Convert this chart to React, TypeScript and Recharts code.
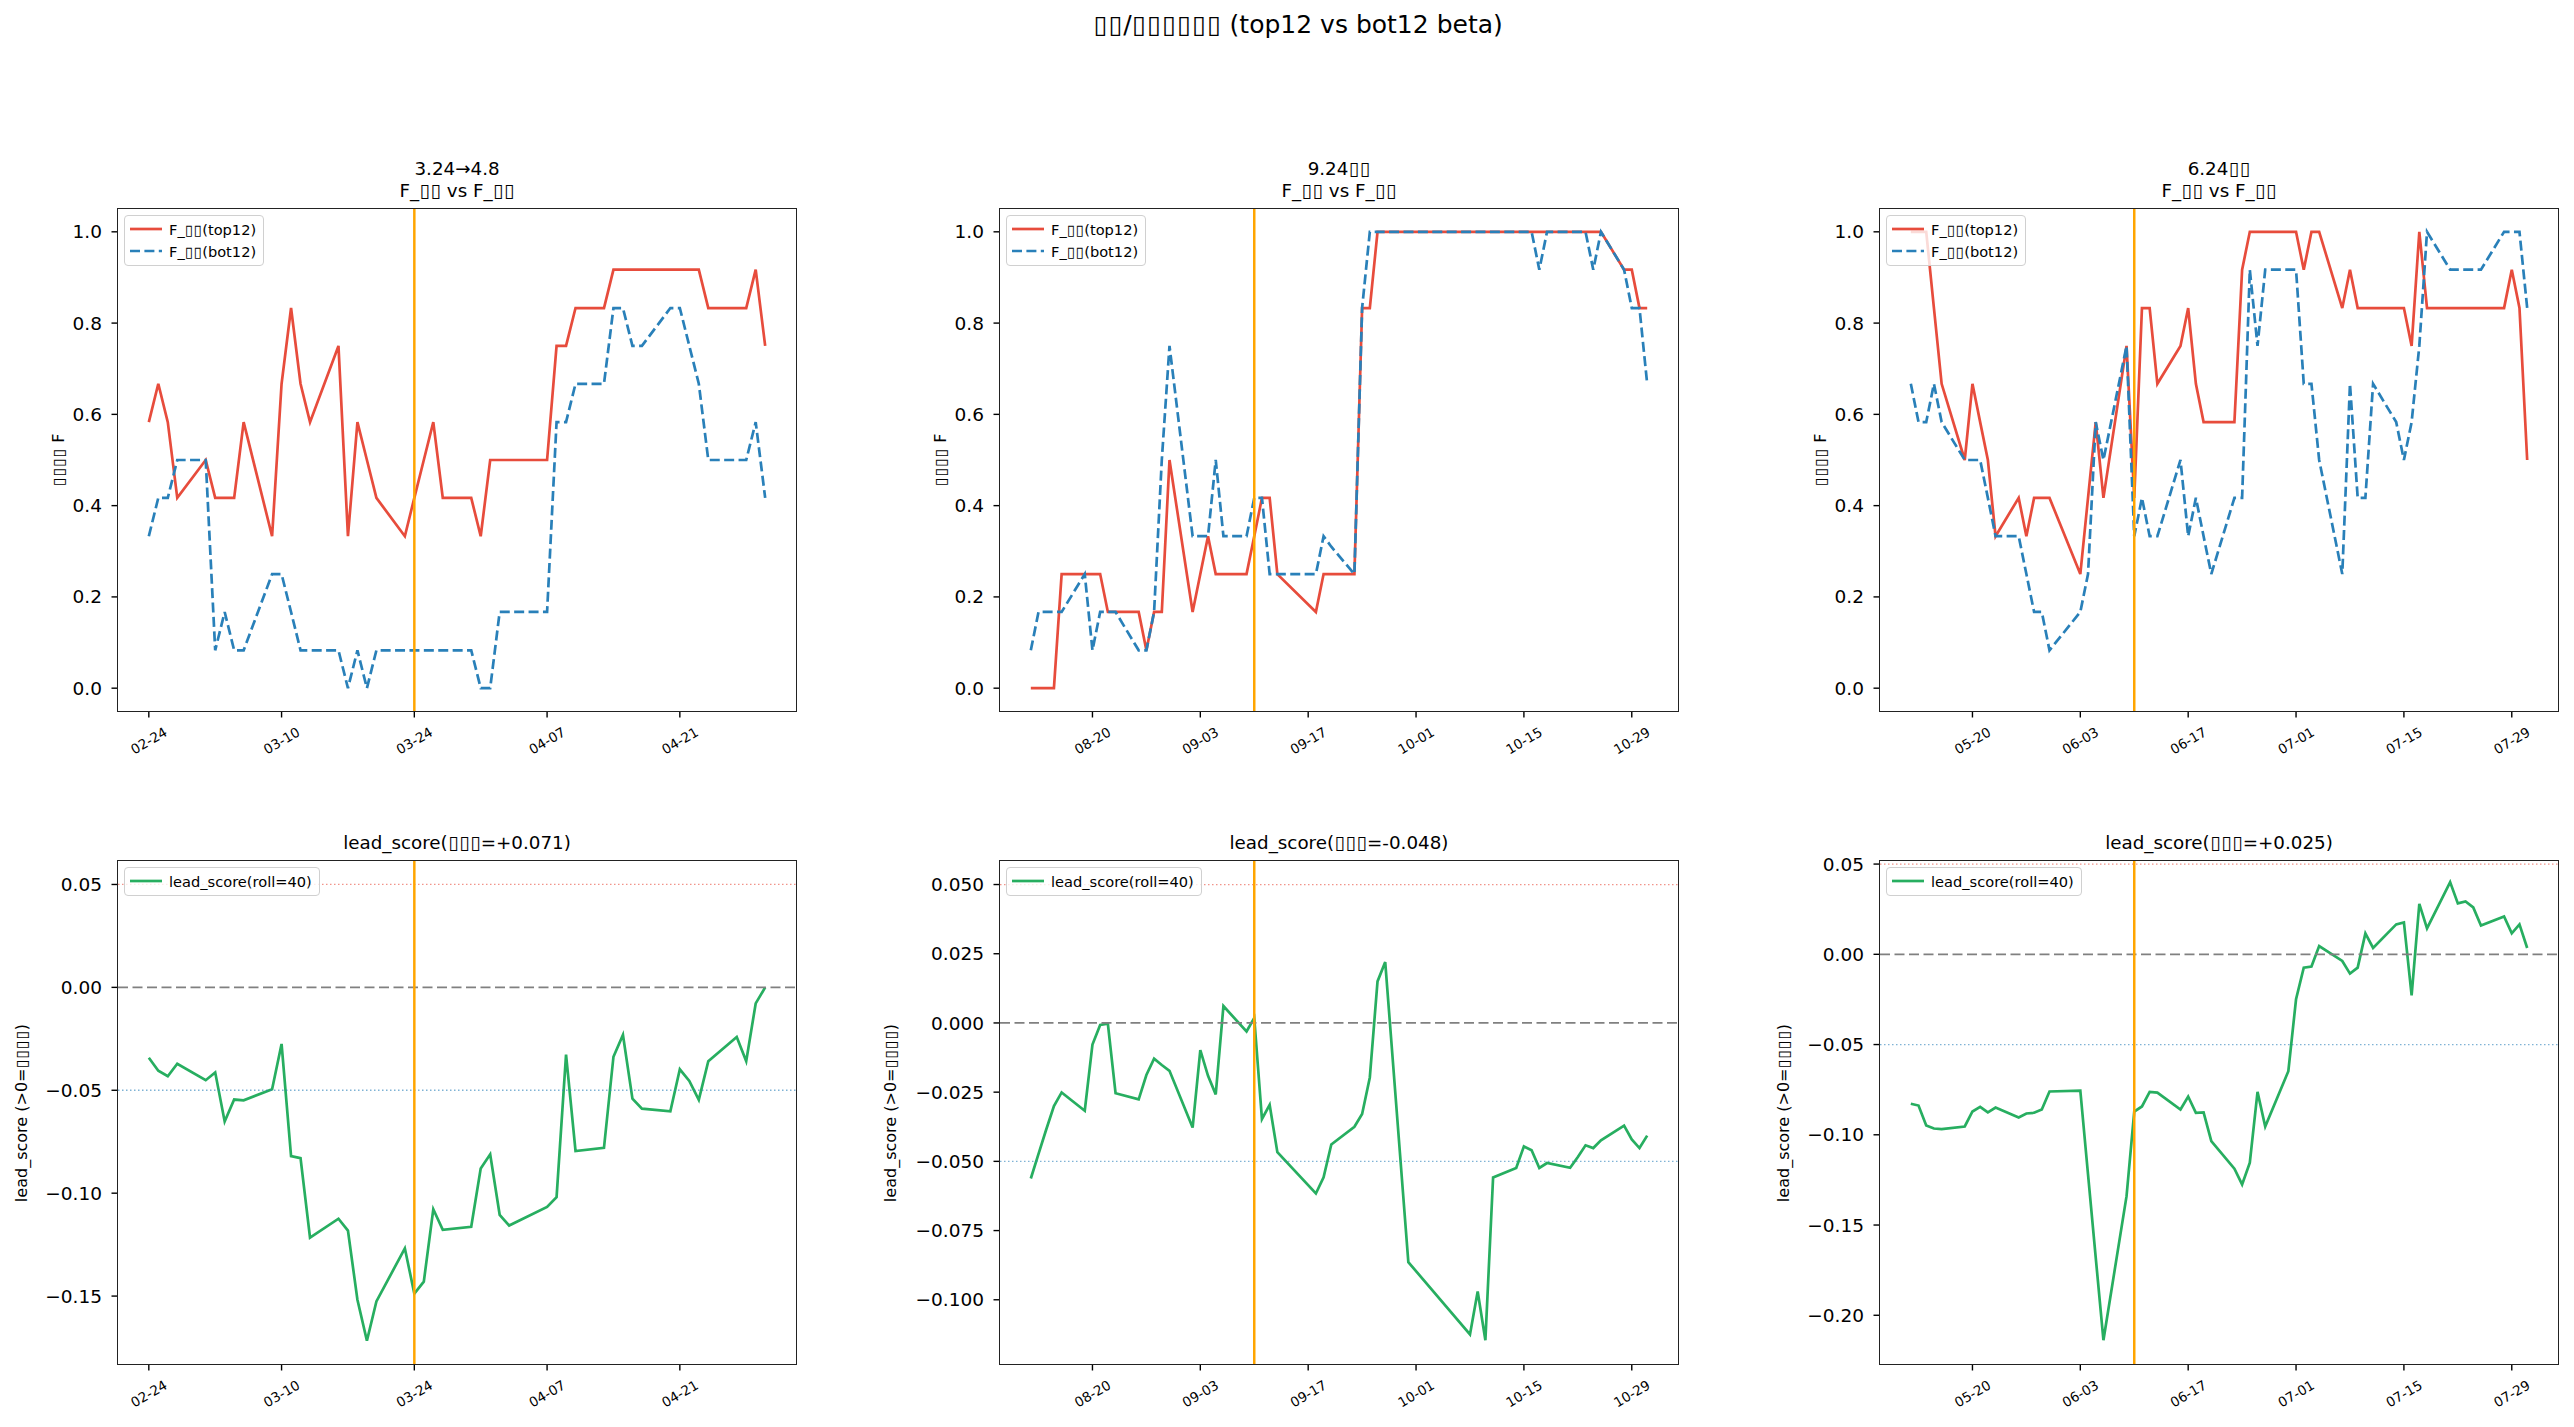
import React from "react";
import { LineChart, Line, XAxis, YAxis, ReferenceLine } from "recharts";

const FONT = "'DejaVu Sans', sans-serif";
const BOX = "\u25AF";
const DAY = 86400000;

const RED = "#e74c3c";
const BLUE = "#2980b9";
const GREEN = "#27ae60";
const ORANGE = "#FFA500";

// ---- panel 1 : 3.24→4.8 (2026) ----
const p1Year = 2026;
const p1Dates = ["02-24","02-25","02-26","02-27","03-02","03-03","03-04","03-05","03-06","03-09","03-10","03-11","03-12","03-13","03-16","03-17","03-18","03-19","03-20","03-23","03-24","03-25","03-26","03-27","03-30","03-31","04-01","04-02","04-03","04-07","04-08","04-09","04-10","04-13","04-14","04-15","04-16","04-17","04-20","04-21","04-22","04-23","04-24","04-27","04-28","04-29","04-30"];
const p1Top = [0.583,0.667,0.583,0.417,0.5,0.417,0.417,0.417,0.583,0.333,0.667,0.833,0.667,0.583,0.75,0.333,0.583,0.5,0.417,0.333,0.417,0.5,0.583,0.417,0.417,0.333,0.5,0.5,0.5,0.5,0.75,0.75,0.833,0.833,0.917,0.917,0.917,0.917,0.917,0.917,0.917,0.917,0.833,0.833,0.833,0.917,0.75];
const p1Bot = [0.333,0.417,0.417,0.5,0.5,0.083,0.167,0.083,0.083,0.25,0.25,0.167,0.083,0.083,0.083,0,0.083,0,0.083,0.083,0.083,0.083,0.083,0.083,0.083,0,0,0.167,0.167,0.167,0.583,0.583,0.667,0.667,0.833,0.833,0.75,0.75,0.833,0.833,0.75,0.667,0.5,0.5,0.5,0.583,0.417];
const p1Lead = [-0.0342,-0.0405,-0.0432,-0.0371,-0.0451,-0.0413,-0.0652,-0.0545,-0.0549,-0.0495,-0.0275,-0.082,-0.083,-0.1216,-0.1124,-0.1182,-0.1518,-0.1717,-0.1526,-0.1268,-0.1488,-0.143,-0.1078,-0.1178,-0.1163,-0.088,-0.0811,-0.1105,-0.1157,-0.1067,-0.1019,-0.0327,-0.0795,-0.078,-0.0337,-0.0231,-0.0541,-0.0589,-0.0602,-0.0398,-0.0455,-0.0547,-0.0359,-0.0241,-0.0359,-0.0078,0.0];
const p1Ticks = ["02-24","03-10","03-24","04-07","04-21"];
const p1Mark = "03-24";

// ---- panel 2 : 9.24 (2024) ----
const p2Year = 2024;
const p2Dates = ["08-12","08-13","08-14","08-15","08-16","08-19","08-20","08-21","08-22","08-23","08-26","08-27","08-28","08-29","08-30","09-02","09-03","09-04","09-05","09-06","09-09","09-10","09-11","09-12","09-13","09-18","09-19","09-20","09-23","09-24","09-25","09-26","09-27","09-30","10-08","10-09","10-10","10-11","10-14","10-15","10-16","10-17","10-18","10-21","10-22","10-23","10-24","10-25","10-28","10-29","10-30","10-31"];
const p2Top = [0,0,0,0,0.25,0.25,0.25,0.25,0.167,0.167,0.167,0.083,0.167,0.167,0.5,0.167,0.25,0.333,0.25,0.25,0.25,0.333,0.417,0.417,0.25,0.167,0.25,0.25,0.25,0.833,0.833,1,1,1,1,1,1,1,1,1,1,1,1,1,1,1,1,1,0.917,0.917,0.833,0.833];
const p2Bot = [0.083,0.167,0.167,0.167,0.167,0.25,0.083,0.167,0.167,0.167,0.083,0.083,0.167,0.5,0.75,0.333,0.333,0.333,0.5,0.333,0.333,0.417,0.417,0.25,0.25,0.25,0.333,0.31,0.25,0.833,1,1,1,1,1,1,1,1,1,1,1,0.917,1,1,1,1,0.917,1,0.917,0.833,0.833,0.667];
const p2Lead = [-0.0562,-0.0473,-0.0385,-0.03,-0.0251,-0.0317,-0.0078,-0.0007,-0.0003,-0.0254,-0.0276,-0.0188,-0.0129,-0.0152,-0.0173,-0.0378,-0.0098,-0.0191,-0.0258,0.0061,-0.0031,0.0018,-0.0347,-0.0296,-0.0467,-0.0616,-0.0558,-0.0439,-0.0375,-0.0329,-0.0197,0.015,0.022,-0.0864,-0.1125,-0.097,-0.1146,-0.0558,-0.0524,-0.0446,-0.046,-0.0524,-0.0506,-0.0523,-0.0484,-0.0442,-0.0452,-0.0424,-0.0371,-0.0421,-0.0452,-0.0407];
const p2Ticks = ["08-20","09-03","09-17","10-01","10-15","10-29"];
const p2Mark = "09-10";

// ---- panel 3 : 6.24 (2025) ----
const p3Year = 2025;
const p3Dates = ["05-12","05-13","05-14","05-15","05-16","05-19","05-20","05-21","05-22","05-23","05-26","05-27","05-28","05-29","05-30","06-03","06-04","06-05","06-06","06-09","06-10","06-11","06-12","06-13","06-16","06-17","06-18","06-19","06-20","06-23","06-24","06-25","06-26","06-27","06-30","07-01","07-02","07-03","07-04","07-07","07-08","07-09","07-10","07-11","07-14","07-15","07-16","07-17","07-18","07-21","07-22","07-23","07-24","07-25","07-28","07-29","07-30","07-31"];
const p3Top = [1,1,1,0.833,0.667,0.5,0.667,0.583,0.5,0.333,0.417,0.333,0.417,0.417,0.417,0.25,0.417,0.583,0.417,0.75,0.417,0.833,0.833,0.667,0.75,0.833,0.667,0.583,0.583,0.583,0.917,1,1,1,1,1,0.917,1,1,0.833,0.917,0.833,0.833,0.833,0.833,0.833,0.75,1,0.833,0.833,0.833,0.833,0.833,0.833,0.833,0.917,0.833,0.5];
const p3Bot = [0.667,0.583,0.583,0.667,0.583,0.5,0.5,0.5,0.417,0.333,0.333,0.25,0.167,0.167,0.083,0.167,0.25,0.583,0.5,0.75,0.333,0.417,0.333,0.333,0.5,0.333,0.417,0.333,0.25,0.417,0.417,0.917,0.75,0.917,0.917,0.917,0.667,0.667,0.5,0.25,0.667,0.417,0.417,0.667,0.583,0.5,0.583,0.75,1,0.917,0.917,0.917,0.917,0.917,1,1,1,0.833];
const p3Lead = [-0.0828,-0.0838,-0.0948,-0.0965,-0.0969,-0.0954,-0.0871,-0.0845,-0.0876,-0.0849,-0.0904,-0.0882,-0.0878,-0.086,-0.076,-0.0755,-0.122,-0.168,-0.2138,-0.134,-0.0871,-0.0843,-0.0762,-0.0766,-0.086,-0.0788,-0.0878,-0.0876,-0.1035,-0.1188,-0.1275,-0.1155,-0.0762,-0.0954,-0.0648,-0.0249,-0.0074,-0.0068,0.0046,-0.0037,-0.0107,-0.0074,0.0116,0.0035,0.0166,0.0177,-0.0227,0.0279,0.0144,0.04,0.0282,0.0293,0.026,0.0159,0.021,0.0116,0.0166,0.0035];
const p3Ticks = ["05-20","06-03","06-17","07-01","07-15","07-29"];
const p3Mark = "06-10";

// shared axis settings
const fTicks = [0, 0.2, 0.4, 0.6, 0.8, 1.0];
const fDomain: [number, number] = [-0.05, 1.05];
const p4Ticks = [-0.15, -0.1, -0.05, 0, 0.05];
const p5Ticks = [-0.1, -0.075, -0.05, -0.025, 0, 0.025, 0.05];
const p6Ticks = [-0.2, -0.15, -0.1, -0.05, 0, 0.05];
const leadBands = [0.05, -0.05];

const panelTitles = ["3.24\u21924.8", `9.24${BOX}${BOX}`, `6.24${BOX}${BOX}`];
const leadTitles = [`lead_score(${BOX}${BOX}${BOX}=+0.071)`, `lead_score(${BOX}${BOX}${BOX}=-0.048)`, `lead_score(${BOX}${BOX}${BOX}=+0.025)`];

const dayOf = (year: number, md: string) =>
  Date.UTC(year, Number(md.slice(0, 2)) - 1, Number(md.slice(3, 5))) / DAY;
const mdOf = (d: number) => new Date(Math.round(d) * DAY).toISOString().slice(5, 10);

function fmtY(v: number, digits: number) {
  const s = Math.abs(v).toFixed(digits);
  return v < -1e-9 ? "\u2212" + s : s;
}

// missing-glyph boxes keep the 0.6em advance of the original figure
function boxed(s: string) {
  return s.split("").map((c, i) =>
    c === BOX ? (
      <span key={i} style={{ display: "inline-block", width: "0.6em", textAlign: "center" }}>{c}</span>
    ) : (
      <React.Fragment key={i}>{c}</React.Fragment>
    )
  );
}

const DateTick = (p: any) => {
  const cy = p.y + 23;
  return (
    <text x={p.x} y={cy} textAnchor="middle" dominantBaseline="central" fontSize={13.5}
      fontFamily={FONT} fill="#000" transform={`rotate(-30 ${p.x} ${cy})`}>
      {mdOf(p.payload.value)}
    </text>
  );
};

type Series = { key: string; name: string; color: string; dash?: string };

const PADL = 140, PADT = 10, PADR = 10, PADB = 70;

function Panel(props: {
  left: number; top: number; w: number; h: number;
  year: number; dates: string[]; values: Record<string, number[]>; series: Series[];
  ticks: string[]; mark: string;
  yDomain: [number, number]; yTicks: number[]; yDigits: number; lead?: boolean;
  title: string[]; titleTop: number; ylabel: string; ylabelDx: number; legendW: number;
}) {
  const { left, top, w, h, year, dates, values, series } = props;
  const rows = dates.map((d, i) => {
    const r: any = { x: dayOf(year, d) };
    series.forEach((s) => (r[s.key] = values[s.key][i]));
    return r;
  });
  const x0 = rows[0].x, x1 = rows[rows.length - 1].x;
  const pad = (x1 - x0) * 0.05;
  const tickNums = props.ticks.map((t) => dayOf(year, t));
  const tickLine = { stroke: "#000", strokeWidth: 1.4 };

  return (
    <>
      <div style={{ position: "absolute", left, top: props.titleTop, width: w, textAlign: "center",
        fontSize: 18.3, lineHeight: "22px", fontFamily: FONT, color: "#000" }}>
        {props.title.map((t, i) => <div key={i}>{boxed(t)}</div>)}
      </div>
      <div style={{ position: "absolute", left: left - props.ylabelDx, top: top + h / 2,
        transform: "translate(-50%, -50%) rotate(-90deg)", whiteSpace: "nowrap",
        fontSize: 16, fontFamily: FONT, color: "#000" }}>
        {boxed(props.ylabel)}
      </div>
      <div style={{ position: "absolute", left: left - PADL, top: top - PADT }}>
        <LineChart width={w + PADL + PADR} height={h + PADT + PADB} data={rows}
          margin={{ top: PADT, right: PADR, bottom: 0, left: 0 }}>
          <XAxis type="number" dataKey="x" domain={[x0 - pad, x1 + pad]} ticks={tickNums}
            allowDataOverflow interval={0} axisLine={false} tickLine={tickLine} tickSize={6.5}
            tickMargin={0} height={PADB} tick={(p: any) => <DateTick {...p} />} />
          <YAxis type="number" domain={props.yDomain} ticks={props.yTicks} allowDataOverflow
            interval={0} width={PADL} axisLine={false} tickLine={tickLine} tickSize={6.5}
            tickMargin={9.5} tick={{ fontSize: 18.5, fill: "#000", fontFamily: FONT }}
            tickFormatter={(v: number) => fmtY(v, props.yDigits)} />
          {series.map((s) => (
            <Line key={s.key} type="linear" dataKey={s.key} stroke={s.color} strokeWidth={2.7}
              strokeDasharray={s.dash} dot={false} activeDot={false} isAnimationActive={false} />
          ))}
          {props.lead && (
            <ReferenceLine y={0} stroke="#808080" strokeWidth={1.8} strokeDasharray="10 4.5" />
          )}
          {props.lead && (
            <ReferenceLine y={leadBands[0]} stroke={RED} strokeOpacity={0.6} strokeWidth={1.3} strokeDasharray="1.5 2.5" />
          )}
          {props.lead && (
            <ReferenceLine y={leadBands[1]} stroke={BLUE} strokeOpacity={0.6} strokeWidth={1.3} strokeDasharray="1.5 2.5" />
          )}
          <ReferenceLine x={dayOf(year, props.mark)} stroke={ORANGE} strokeWidth={2.5} />
        </LineChart>
      </div>
      <div style={{ position: "absolute", left: left - 0.75, top: top - 0.75, width: w + 1.5,
        height: h + 1.5, border: "1.5px solid #222", boxSizing: "border-box", pointerEvents: "none" }} />
      <div style={{ position: "absolute", left: left + 6, top: top + 6, width: props.legendW,
        border: "1.3px solid #d0d0d0", borderRadius: 4, background: "rgba(255,255,255,0.8)",
        boxSizing: "border-box", padding: "2px 0 3px 0", fontFamily: FONT, fontSize: 14.6, color: "#000" }}>
        {series.map((s) => (
          <div key={s.key} style={{ display: "flex", alignItems: "center", height: 22 }}>
            <svg width={44} height={22} style={{ flex: "none" }}>
              <line x1={5} x2={37} y1={11} y2={11} stroke={s.color} strokeWidth={2.7}
                strokeDasharray={s.dash} />
            </svg>
            <span style={{ whiteSpace: "nowrap" }}>{boxed(s.name)}</span>
          </div>
        ))}
      </div>
    </>
  );
}

const fSeries: Series[] = [
  { key: "top", name: `F_${BOX}${BOX}(top12)`, color: RED },
  { key: "bot", name: `F_${BOX}${BOX}(bot12)`, color: BLUE, dash: "10 4.4" },
];
const leadSeries: Series[] = [{ key: "lead", name: "lead_score(roll=40)", color: GREEN }];

const colLeft = [118, 1000, 1880];
const AXW = 678;
const topRow = { top: 209, h: 502 };
const botRow = { top: 861, h: 503 };

export default function App() {
  const fLabel = `${BOX}${BOX}${BOX}${BOX} F`;
  const leadLabel = `lead_score (>0=${BOX}${BOX}${BOX}${BOX})`;
  const fTitle2 = `F_${BOX}${BOX} vs F_${BOX}${BOX}`;
  const panels = [
    { year: p1Year, dates: p1Dates, top: p1Top, bot: p1Bot, lead: p1Lead, ticks: p1Ticks, mark: p1Mark,
      ld: [-0.183, 0.0614] as [number, number], lt: p4Ticks, dig: 2, ldx: 97 },
    { year: p2Year, dates: p2Dates, top: p2Top, bot: p2Bot, lead: p2Lead, ticks: p2Ticks, mark: p2Mark,
      ld: [-0.1232, 0.0585] as [number, number], lt: p5Ticks, dig: 3, ldx: 110 },
    { year: p3Year, dates: p3Dates, top: p3Top, bot: p3Bot, lead: p3Lead, ticks: p3Ticks, mark: p3Mark,
      ld: [-0.227, 0.0517] as [number, number], lt: p6Ticks, dig: 2, ldx: 97 },
  ];
  return (
    <div style={{ position: "absolute", left: 0, top: 0, width: 2574, height: 1427, background: "#fff", overflow: "hidden" }}>
      <div style={{ position: "absolute", left: 1298, top: 24, transform: "translate(-50%, -50%)",
        whiteSpace: "nowrap", fontSize: 25, fontFamily: FONT, color: "#000" }}>
        {boxed(`${BOX}${BOX}/${BOX}${BOX}${BOX}${BOX}${BOX}${BOX} (top12 vs bot12 beta)`)}
      </div>
      {panels.map((p, i) => (
        <React.Fragment key={i}>
          <Panel left={colLeft[i]} top={topRow.top} w={AXW} h={topRow.h} year={p.year} dates={p.dates}
            values={{ top: p.top, bot: p.bot }} series={fSeries} ticks={p.ticks} mark={p.mark}
            yDomain={fDomain} yTicks={fTicks} yDigits={1} title={[panelTitles[i], fTitle2]} titleTop={158}
            ylabel={fLabel} ylabelDx={60} legendW={140} />
          <Panel left={colLeft[i]} top={botRow.top} w={AXW} h={botRow.h} year={p.year} dates={p.dates}
            values={{ lead: p.lead }} series={leadSeries} ticks={p.ticks} mark={p.mark}
            yDomain={p.ld} yTicks={p.lt} yDigits={p.dig} lead title={[leadTitles[i]]} titleTop={832}
            ylabel={leadLabel} ylabelDx={p.ldx} legendW={196} />
        </React.Fragment>
      ))}
    </div>
  );
}
